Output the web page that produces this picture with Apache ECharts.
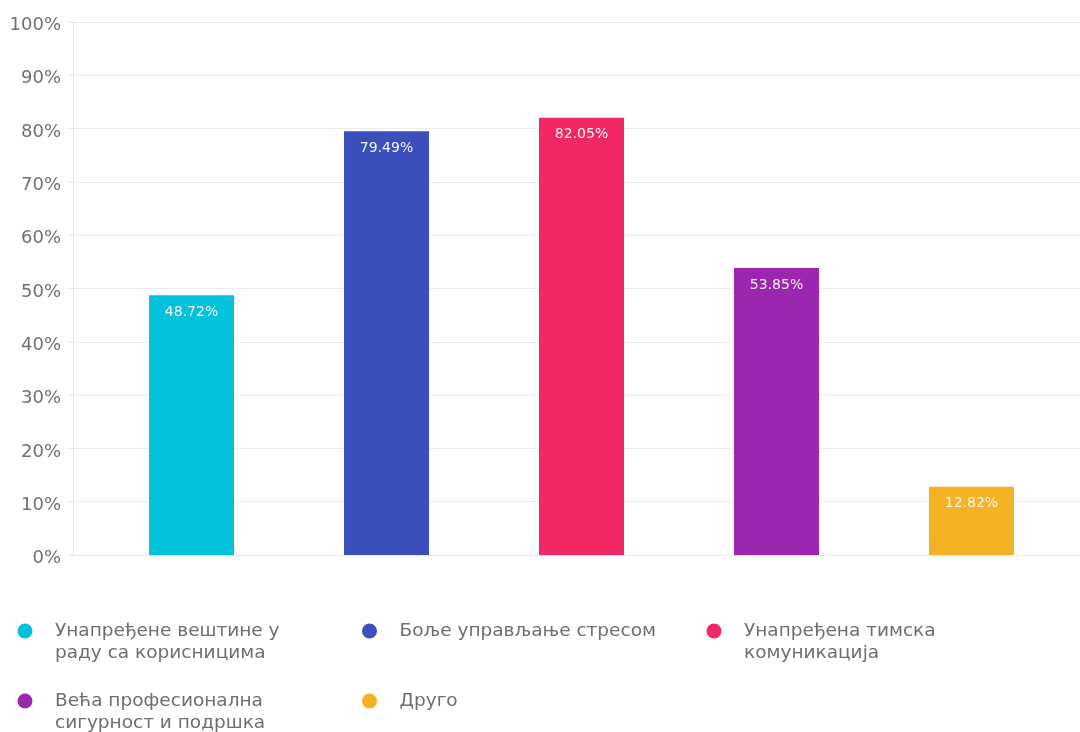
<!DOCTYPE html>
<html>
<head>
<meta charset="utf-8">
<script src="https://cdn.jsdelivr.net/npm/echarts@6/dist/echarts.min.js"></script>
<style>
  html, body { margin: 0; padding: 0; background: #ffffff; }
  #chart { width: 1080px; height: 732px; }
</style>
</head>
<body>
<div id="chart"></div>
<script>
// Survey answers and their share of respondents (%)
const categories = [
  'Унапређене вештине у раду са корисницима',
  'Боље управљање стресом',
  'Унапређена тимска комуникација',
  'Већа професионална сигурност и подршка',
  'Друго'
];
// legend captions, broken onto two lines where needed
const legendLines = [
  ['Унапређене вештине у', 'раду са корисницима'],
  ['Боље управљање стресом'],
  ['Унапређена тимска', 'комуникација'],
  ['Већа професионална', 'сигурност и подршка'],
  ['Друго']
];
const values = [48.72, 79.49, 82.05, 53.85, 12.82];
const colors = ['#02c1da', '#3b4fbc', '#f12863', '#9b27b0', '#f4b224'];
const yTicks = [0, 10, 20, 30, 40, 50, 60, 70, 80, 90, 100];

const FONT = '"DejaVu Sans", sans-serif';

const chart = echarts.init(document.getElementById('chart'), null, { renderer: 'canvas' });

const series = categories.map((name, i) => ({
  name: name,
  type: 'bar',
  data: [values[i]],
  barWidth: 85,
  barGap: (110 / 85 * 100).toFixed(1) + '%',
  itemStyle: { color: colors[i] },
  label: {
    show: true,
    position: 'insideTop',
    distance: 10,
    color: '#f4f4f4',
    fontFamily: FONT,
    fontSize: 14,
    formatter: p => p.value.toFixed(2) + '%'
  }
}));

chart.setOption({
  animation: false,
  backgroundColor: '#ffffff',
  grid: { left: 73, width: 1017, top: 22, bottom: 177, outerBoundsMode: 'none' },
  xAxis: {
    type: 'category',
    data: [''],
    axisLine: { show: true, lineStyle: { color: '#e6e6e6' } },
    axisTick: { show: false },
    axisLabel: { show: false }
  },
  yAxis: {
    type: 'value',
    min: yTicks[0],
    max: yTicks[yTicks.length - 1],
    interval: yTicks[1] - yTicks[0],
    axisLine: { show: true, lineStyle: { color: '#e6e6e6' } },
    axisTick: { show: true, length: 5, lineStyle: { color: '#e6e6e6' } },
    splitLine: { show: true, lineStyle: { color: '#ebebeb' } },
    axisLabel: {
      margin: 12,
      color: '#707070',
      fontFamily: FONT,
      fontSize: 18,
      verticalAlign: 'top',
      lineHeight: 7,
      formatter: '{value}%'
    }
  },
  legend: {
    left: 17.5,
    top: 598,
    width: 1060,
    padding: 0,
    itemGap: 4,
    itemWidth: 15,
    itemHeight: 15,
    icon: 'circle',
    selectedMode: false,
    data: categories,
    // a leading blank line keeps the icon level with the first line of two-line captions
    formatter: name => {
      const lines = legendLines[categories.indexOf(name)];
      return (lines.length > 1 ? '\n' : '') + lines.join('\n');
    },
    textStyle: {
      color: '#6e6e6e',
      fontFamily: FONT,
      fontSize: 18.5,
      lineHeight: 22,
      width: 280,
      padding: [0, 23, 0, 17.5],
      overflow: 'none',
      backgroundColor: 'transparent'
    }
  },
  series: series
});
</script>
</body>
</html>
